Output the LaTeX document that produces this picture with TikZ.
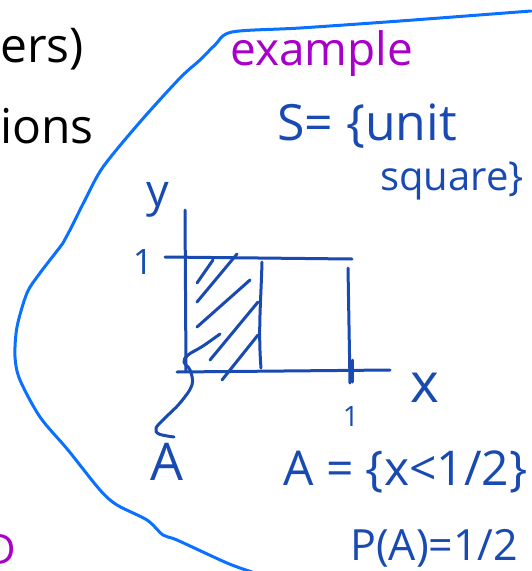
\documentclass[tikz,border=0pt]{standalone}
\usepackage{fontspec}
\setmainfont{Open Sans}
\definecolor{inkblue}{RGB}{24, 74, 178}
\definecolor{penblue}{RGB}{10, 112, 255}
\definecolor{inkpurple}{RGB}{168, 0, 200}

\begin{document}
\begin{tikzpicture}[x=1pt, y=-1pt,
    ink/.style={inkblue, line width=3pt, line cap=round, line join=round},
    hand/.style={inner sep=0pt, font=\fontsize{#1}{#1}\selectfont}]
    \useasboundingbox (0,0) rectangle (531,571);

    % leftover words of the previous page
    \node[hand=48, anchor=base west] (ers) at (0,62) {ers)};
    \node[hand=48, anchor=base west] (ions) at (0,143) {ions};
    \node[hand=42, anchor=east, text=inkpurple] (D) at (16,550) {D};

    % boundary of the example box
    \draw[penblue, line width=3pt, line cap=round] plot[smooth, tension=0.5] coordinates {
        (531,11) (400,21) (300,28) (232,32) (215,45) (200,60) (180,78) (140,122)
        (103,167) (85,200) (70,230) (63,243) (40,273) (27,293) (17,327) (15,357)
        (20,380) (40,417) (68,450) (100,490) (117,505) (147,520) (163,535)
        (177,540) (227,563) (252,572)};

    \node[hand=46, anchor=base west, text=inkpurple] (example) at (230,65) {example};
    \node[hand=50, anchor=base west, text=inkblue] (S1) at (277,140) {S= \{unit};
    \node[hand=40, anchor=base west, text=inkblue] (S2) at (380,190) {square\}};

    % axes and the unit square
    \coordinate (O) at (186,371);
    \coordinate (ytop) at (185,210);
    \coordinate (xend) at (390,370);
    \coordinate (ytick) at (165,257);
    \coordinate (TR) at (352,259);
    \draw[ink] (ytop) -- (O);
    \draw[ink] (177,372) -- (xend);
    \draw[ink] (ytick) -- (TR);
    \draw[ink] (262,262) .. controls (261,300) and (258,330) .. (261,368);
    \draw[ink] (348,268) -- (350,383);
    \draw[ink] (352,360) -- (352,382);

    \node[hand=45, text=inkblue] (ylab) at (158,200) {y};
    \node[hand=55, text=inkblue] (xlab) at (425,388) {x};
    \node[hand=35, text=inkblue] (one1) at (143,262) {1};
    \node[hand=28, text=inkblue] (one2) at (351,416) {1};

    % shading of A
    \draw[ink] (197,283) -- (213,260);
    \draw[ink] (197,302) -- (237,254);
    \draw[ink] (197,327) -- (250,280);
    \draw[ink] (210,360) -- (258,302);
    \draw[ink] (222,380) -- (258,335);

    % pointer to A
    \node[hand=52, text=inkblue] (Alab) at (167,462) {A};
    \coordinate (Apt) at (220,334);
    \draw[ink] plot[smooth, tension=0.6] coordinates {
        (Apt) (203,346) (188,355) (184,362) (190,370) (192,385) (180,403)
        (165,418) (156,428) (159,434) (174,437)};

    \node[hand=48, anchor=base west, text=inkblue] (Aset) at (283,485) {A = \{x<1/2\}};
    \node[hand=43, anchor=base west, text=inkblue] (PA) at (350,560) {P(A)=1/2};
\end{tikzpicture}
\end{document}
